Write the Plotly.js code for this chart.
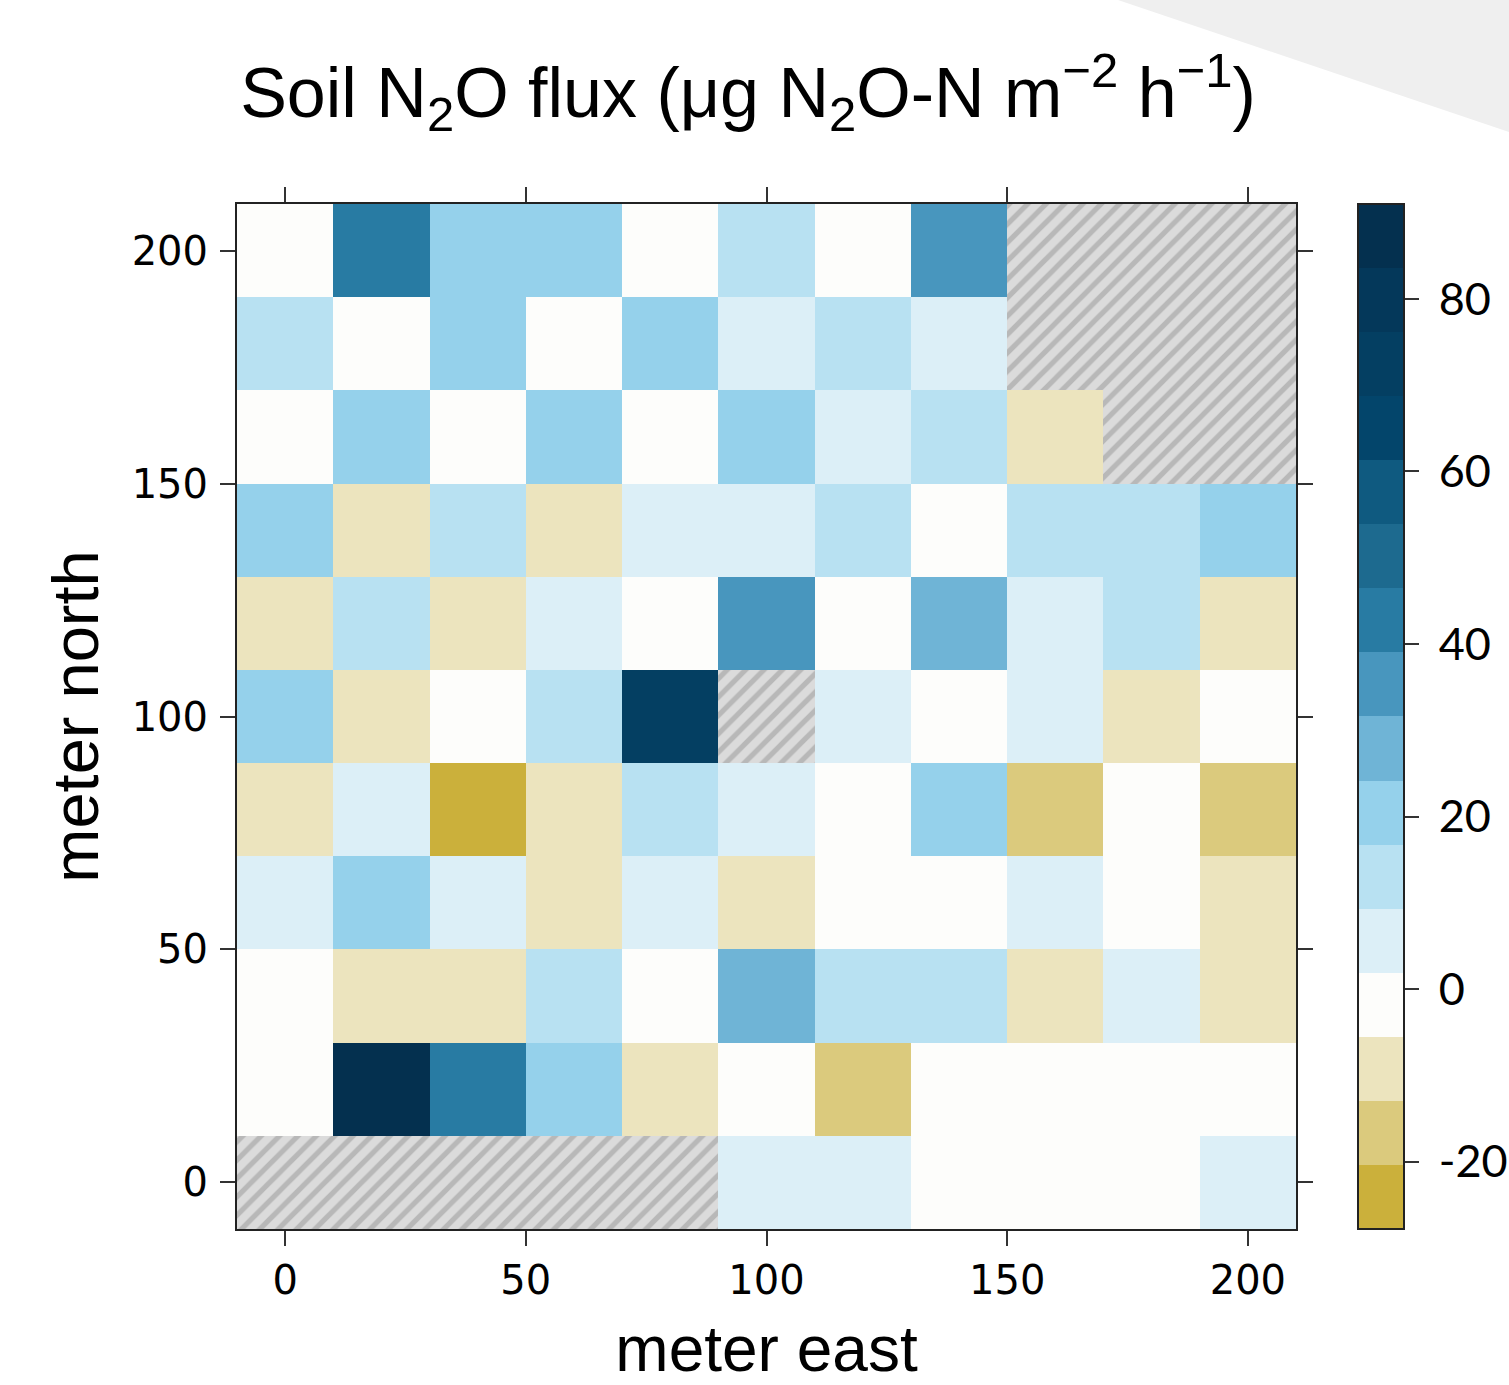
<!DOCTYPE html>
<html>
<head>
<meta charset="utf-8">
<script src="https://cdn.plot.ly/plotly-3.0.1.min.js"></script>
<style>html,body{margin:0;padding:0;background:#fff;}#chart{width:1509px;height:1385px;}</style>
</head>
<body>
<div id="chart"></div>
<script>
// Cell centres (metres)
const eastings = [0, 20, 40, 60, 80, 100, 120, 140, 160, 180, 200];
const northings = [200, 180, 160, 140, 120, 100, 80, 60, 40, 20, 0]; // row order of the arrays below (top to bottom)

// Soil N2O flux per cell, one array per row (north 200 ... north 0); null = no data
const row200 = [0.5, 43.0, 20.5, 21.0, -1.0, 12.5, 1.0, 36.0, null, null, null];
const row180 = [14.0, -0.5, 19.0, 0.0, 22.0, 5.0, 12.0, 6.0, null, null, null];
const row160 = [-1.5, 20.0, 0.5, 18.5, -2.0, 21.5, 7.0, 13.0, -9.0, null, null];
const row140 = [22.0, -8.0, 11.0, -10.0, 5.0, 4.0, 14.0, -2.0, 12.0, 15.0, 20.0];
const row120 = [-7.0, 13.0, -11.0, 3.0, 0.0, 37.0, -3.0, 29.0, 6.0, 10.5, -8.0];
const row100 = [19.0, -9.0, 1.0, 15.0, 72.0, null, 8.0, -1.0, 4.0, -6.0, 0.0];
const row80  = [-10.0, 7.0, -27.5, -7.0, 11.0, 5.0, -0.5, 23.0, -15.0, 1.0, -17.0];
const row60  = [5.0, 20.0, 3.0, -12.0, 6.0, -8.0, 0.0, -3.0, 4.0, -1.0, -10.0];
const row40  = [-2.0, -6.0, -9.0, 12.0, 1.0, 27.0, 16.0, 10.0, -11.0, 8.0, -7.0];
const row20  = [-3.0, 90.5, 45.0, 21.0, -8.0, 0.5, -14.0, -1.0, 0.5, 0.0, -4.0];
const row0   = [null, null, null, null, null, 4.0, 6.0, -2.0, 0.0, 1.0, 5.0];
const fluxRows = [row200, row180, row160, row140, row120, row100, row80, row60, row40, row20, row0];

// Colour key (16 equal classes between these limits)
const keyMin = -27.8, keyMax = 91.0;
const keyColors = ['#CBB03B','#DBCA7D','#ECE4BE','#FDFDFB','#DCEFF7','#B8E1F2','#95D1EB','#6FB4D6',
                   '#4896BE','#287BA3','#1D6A8F','#0F5A80','#03456B','#043F62','#04385A','#04304F'];
const keyTicks = [-20, 0, 20, 40, 60, 80];
const axisTicks = [0, 50, 100, 150, 200];

// ---- build traces ----
const n = keyColors.length;
const colorscale = [];
keyColors.forEach((c, i) => { colorscale.push([i / n, c]); colorscale.push([(i + 1) / n, c]); });

const cell = eastings[1] - eastings[0];
const naX = [], naBase = [], naLen = [];
northings.forEach((y, i) => eastings.forEach((x, j) => {
  if (fluxRows[i][j] === null) { naX.push(x); naBase.push(y - cell / 2); naLen.push(cell); }
}));

const W = 1509, H = 1385;
const L = 237, R = 1296, T = 204, B = 1229;
const pw = R - L, ph = B - T;

const hatched = {
  type: 'bar', x: naX, y: naLen, base: naBase, width: cell,
  marker: { color: '#dbdbdb', line: { width: 0 },
            pattern: { shape: '/', bgcolor: '#dbdbdb', fgcolor: '#b8b8b8', size: 13, solidity: 0.4 } },
  hoverinfo: 'skip', showlegend: false
};

const heat = {
  type: 'heatmap', x: eastings, y: northings, z: fluxRows,
  zmin: keyMin, zmax: keyMax, colorscale: colorscale, connectgaps: false,
  hoverongaps: false,
  colorbar: {
    thickness: 46, thicknessmode: 'pixels', len: 1, lenmode: 'fraction',
    x: (1358 - L) / pw, xanchor: 'left', xpad: 0, ypad: 0, y: 0.5, yanchor: 'middle',
    outlinewidth: 2, outlinecolor: '#222',
    tickmode: 'array', tickvals: keyTicks, ticktext: keyTicks.map(v => '\u2009\u2009' + v),
    ticks: 'outside', ticklen: 14, tickwidth: 2, tickcolor: '#333',
    tickfont: { family: 'Lato, Open Sans, sans-serif', size: 45, color: '#000' }
  }
};

const axisCommon = {
  range: [-10, 210], tickmode: 'array', tickvals: axisTicks,
  showgrid: false, zeroline: false, showline: true, linecolor: '#222', linewidth: 2,
  mirror: 'ticks', ticks: 'outside', ticklen: 15, tickwidth: 2, tickcolor: '#333',
  tickfont: { family: 'DejaVu Sans, sans-serif', size: 40, color: '#000' }
};

const layout = {
  width: W, height: H,
  margin: { l: L, r: W - R, t: T, b: H - B, pad: 0, autoexpand: false },
  paper_bgcolor: '#fff', plot_bgcolor: '#fff',
  barmode: 'overlay', bargap: 0,
  showlegend: false,
  title: {
    text: 'Soil N<sub>2</sub>O flux (μg N<sub>2</sub>O-N m<sup>−2</sup> h<sup>−1</sup>)',
    font: { family: 'Liberation Sans, Arial, sans-serif', size: 70, color: '#000' },
    xref: 'container', yref: 'container', x: 748 / W, xanchor: 'center', y: 1 - 92 / H, yanchor: 'middle'
  },
  xaxis: Object.assign({}, axisCommon, {
    title: { text: 'meter east', font: { family: 'Liberation Sans, Arial, sans-serif', size: 64, color: '#000' }, standoff: 26 }
  }),
  yaxis: Object.assign({}, axisCommon, {
    ticklabelstandoff: 4,
    title: { text: 'meter north', font: { family: 'Liberation Sans, Arial, sans-serif', size: 65, color: '#000' }, standoff: 12 }
  }),
  shapes: [{
    type: 'path', xref: 'paper', yref: 'paper', layer: 'below',
    path: 'M ' + ((1118 - L) / pw) + ' ' + ((B - 0) / ph) + ' L ' + ((W - L) / pw) + ' ' + ((B - 0) / ph) +
          ' L ' + ((W - L) / pw) + ' ' + ((B - 132) / ph) + ' Z',
    fillcolor: '#efefef', line: { width: 0 }
  }]
};

Plotly.newPlot('chart', [hatched, heat], layout, { displayModeBar: false, staticPlot: true });
</script>
</body>
</html>
